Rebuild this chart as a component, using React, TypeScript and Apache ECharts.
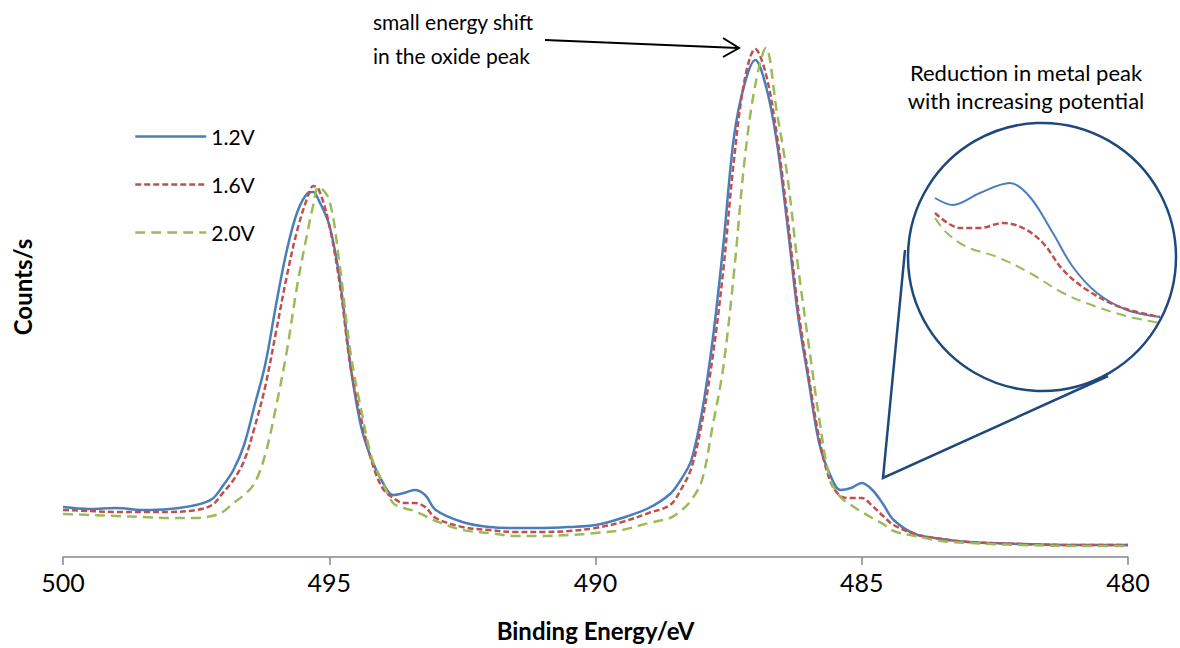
import React, { useEffect, useRef } from "react";
import * as echarts from "echarts";

// Binding energy grid (eV)
const energy = [
  500, 499.5, 499, 498.5, 498, 497.5, 497.2, 497, 496.8, 496.6,
  496.4, 496.2, 496, 495.8, 495.6, 495.4, 495.3, 495.2, 495, 494.8,
  494.6, 494.4, 494.2, 494, 493.8, 493.6, 493.4, 493.2, 493, 492.5,
  492, 491.5, 491, 490.5, 490, 489.5, 489, 488.6, 488.4, 488.2,
  488, 487.8, 487.6, 487.4, 487.2, 487, 486.8, 486.6, 486.4, 486.2,
  486, 485.8, 485.6, 485.4, 485.2, 485, 484.8, 484.6, 484.4, 484,
  483.5, 483, 482, 481, 480,
];

const counts12 = [
  50, 48, 49, 47, 48, 52, 58, 71, 87, 112,
  152, 193, 252, 306, 345, 364, 365, 357, 332, 277,
  191, 130, 97, 75, 62, 64, 67, 62, 47, 35,
  30, 29, 29, 30, 32, 39, 49, 63, 77, 97,
  145, 217, 312, 420, 473, 497, 471, 417, 334, 243,
  177, 114, 83, 67, 69, 74, 67, 53, 37, 23,
  18, 15, 13, 12, 12,
];

const counts16 = [
  47, 46, 45, 45, 45, 47, 52, 64, 77, 96,
  130, 171, 225, 280, 327, 361, 371, 368, 332, 272,
  190, 138, 95, 69, 59, 54, 54, 50, 39, 30,
  27, 25, 25, 26, 29, 35, 44, 52, 67, 89,
  135, 200, 287, 397, 477, 508, 483, 424, 342, 250,
  182, 119, 77, 61, 59, 59, 51, 41, 32, 23,
  18, 15, 13, 12, 12,
];

const counts20 = [
  43, 42, 41, 40, 39, 39, 41, 45, 54, 62,
  74, 103, 150, 205, 272, 327, 352, 370, 357, 290,
  204, 147, 99, 75, 54, 49, 46, 41, 36, 27,
  24, 21, 21, 22, 24, 27, 34, 39, 46, 57,
  77, 131, 190, 284, 397, 472, 509, 447, 382, 292,
  214, 139, 79, 60, 52, 45, 39, 33, 26, 21,
  16, 14, 12, 11, 11,
];

// Magnified inset (metal peak region)
const insetEnergy12 = [485.4, 485.32, 485.2, 485.067, 484.978, 484.876, 484.787, 484.68, 484.547, 484.4];
const insetCounts12 = [127, 120, 132, 142, 128, 92, 58, 32, 15, 8];
const insetEnergy16 = [485.4, 485.289, 485.2, 485.098, 485.009, 484.92, 484.831, 484.724, 484.578, 484.4];
const insetCounts16 = [112, 97, 97, 102, 97, 82, 55, 35, 18, 8];
const insetEnergy20 = [485.4, 485.347, 485.258, 485.124, 484.978, 484.831, 484.68, 484.533, 484.4];
const insetCounts20 = [107, 92, 78, 68, 52, 32, 18, 8, 2];

const seriesNames = ["1.2V", "1.6V", "2.0V"];
const xTicks = { min: 480, max: 500, interval: 5 };

const FONT = "Lato";
const BLUE = "#4a7ebb";
const RED = "#c0504d";
const GREEN = "#9bbb59";
const NAVY = "#1f497d";

const pairs = (xs: number[], ys: number[]) => xs.map((x, i) => [x, ys[i]]);

export default function App() {
  const ref = useRef<HTMLDivElement>(null);

  useEffect(() => {
    if (!ref.current) return;
    const chart = echarts.init(ref.current, undefined, { renderer: "svg" });

    const lineSeries = (
      name: string,
      data: number[][],
      color: string,
      type: any,
      width: number,
      axisIdx: number
    ) => ({
      name,
      type: "line",
      xAxisIndex: axisIdx,
      yAxisIndex: axisIdx,
      data,
      smooth: 0.35,
      symbol: "none",
      showSymbol: false,
      legendIcon: "none",
      lineStyle: { color, width, type, cap: "butt" },
      itemStyle: { color },
      z: 3,
    });

    const option: any = {
      animation: false,
      backgroundColor: "#ffffff",
      textStyle: { fontFamily: FONT },
      grid: [
        { left: 63, right: 52, top: 37, bottom: 91 },
        { left: 935, width: 225, top: 175, height: 150 },
      ],
      legend: {
        data: seriesNames,
        orient: "vertical",
        left: 129,
        top: 121,
        itemWidth: 71,
        itemHeight: 20,
        itemGap: 27,
        itemStyle: { opacity: 0 },
        lineStyle: { width: 2.5 },
        textStyle: { fontFamily: FONT, fontSize: 21, color: "#000" },
      },
      xAxis: [
        {
          type: "value",
          min: xTicks.min,
          max: xTicks.max,
          interval: xTicks.interval,
          inverse: true,
          axisLine: { lineStyle: { color: "#868686", width: 1.5 } },
          axisTick: { length: 8, lineStyle: { color: "#868686", width: 1.5 } },
          axisLabel: { fontFamily: FONT, fontSize: 25, color: "#000", margin: 12 },
          splitLine: { show: false },
          name: "Binding Energy/eV",
          nameLocation: "middle",
          nameGap: 61,
          nameTextStyle: { fontFamily: FONT, fontWeight: "bold", fontSize: 24, color: "#000" },
        },
        { gridIndex: 1, type: "value", min: 484.4, max: 485.4, inverse: true, show: false },
      ],
      yAxis: [
        {
          type: "value",
          min: 0,
          max: 520,
          axisLine: { show: false },
          axisTick: { show: false },
          axisLabel: { show: false },
          splitLine: { show: false },
          name: "Counts/s",
          nameLocation: "middle",
          nameGap: 29,
          nameTextStyle: { fontFamily: FONT, fontWeight: "bold", fontSize: 24, color: "#000", padding: [0, 0, 0, 20] },
        },
        { gridIndex: 1, type: "value", min: 0, max: 150, show: false },
      ],
      series: [
        lineSeries(seriesNames[0], pairs(energy, counts12), BLUE, "solid", 2.5, 0),
        lineSeries(seriesNames[1], pairs(energy, counts16), RED, [6, 3], 2.5, 0),
        lineSeries(seriesNames[2], pairs(energy, counts20), GREEN, [10, 6], 2.5, 0),
        lineSeries(seriesNames[0] + " (inset)", pairs(insetEnergy12, insetCounts12), BLUE, "solid", 2, 1),
        lineSeries(seriesNames[1] + " (inset)", pairs(insetEnergy16, insetCounts16), RED, [6, 3], 2.5, 1),
        lineSeries(seriesNames[2] + " (inset)", pairs(insetEnergy20, insetCounts20), GREEN, [10, 6], 2, 1),
      ],
      graphic: [
        {
          type: "text",
          x: 373,
          y: 21,
          style: { text: "small energy shift", fontFamily: FONT, fontSize: 21, fill: "#000", align: "left", verticalAlign: "middle" },
        },
        {
          type: "text",
          x: 373,
          y: 55,
          style: { text: "in the oxide peak", fontFamily: FONT, fontSize: 21, fill: "#000", align: "left", verticalAlign: "middle" },
        },
        {
          type: "line",
          shape: { x1: 545, y1: 40, x2: 738, y2: 48 },
          style: { stroke: "#000", lineWidth: 2 },
        },
        {
          type: "polyline",
          shape: { points: [[723, 38], [739, 48], [723, 57]] },
          style: { stroke: "#000", lineWidth: 2, fill: null },
        },
        {
          type: "text",
          x: 1026,
          y: 72,
          style: { text: "Reduction in metal peak", fontFamily: FONT, fontSize: 22, fill: "#000", align: "center", verticalAlign: "middle" },
        },
        {
          type: "text",
          x: 1026,
          y: 100,
          style: { text: "with increasing potential", fontFamily: FONT, fontSize: 22, fill: "#000", align: "center", verticalAlign: "middle" },
        },
        {
          type: "circle",
          shape: { cx: 1042, cy: 257, r: 134 },
          style: { stroke: NAVY, lineWidth: 2.5, fill: null },
          z: 10,
        },
        {
          type: "polyline",
          shape: { points: [[905, 250], [883, 478], [1108, 376]] },
          style: { stroke: NAVY, lineWidth: 2.5, fill: null },
          z: 10,
        },
      ],
    };

    chart.setOption(option);
    return () => chart.dispose();
  }, []);

  return <div ref={ref} style={{ width: 1180, height: 648, position: "absolute", left: 0, top: 0 }} />;
}
